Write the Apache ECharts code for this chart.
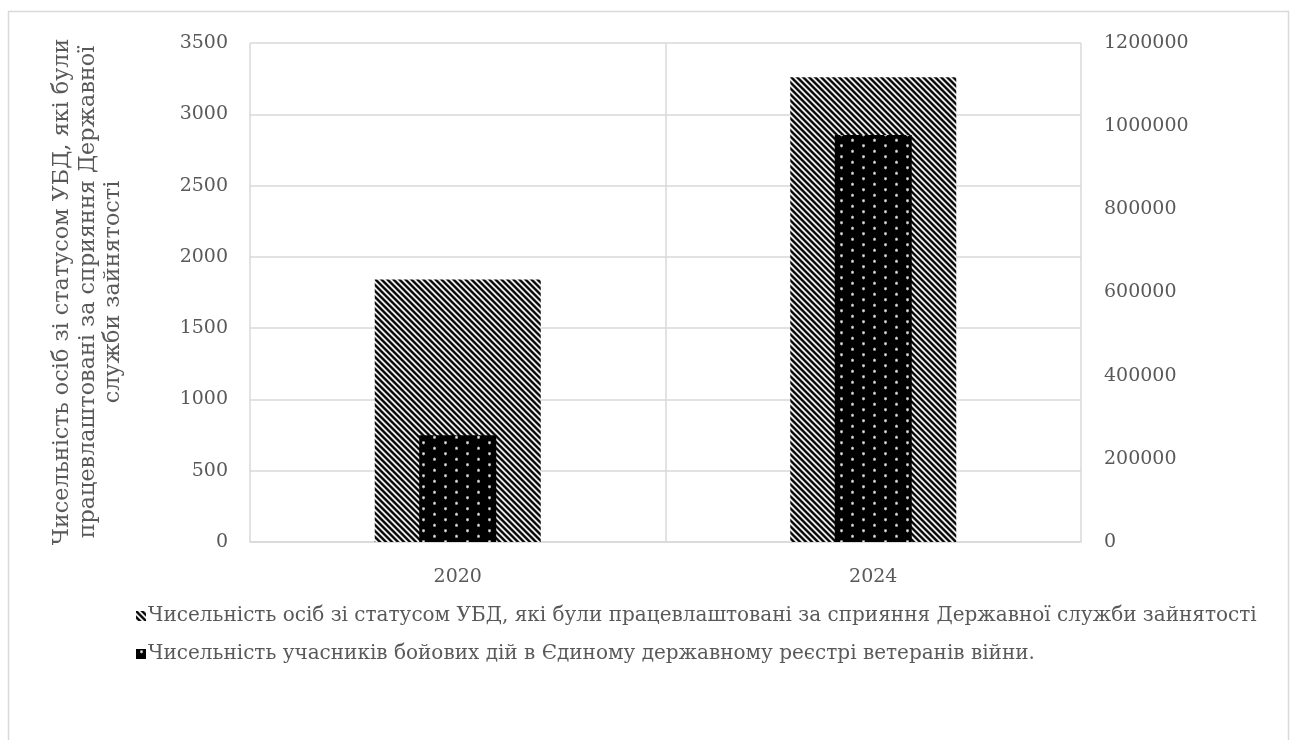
<!DOCTYPE html>
<html><head><meta charset="utf-8">
<script src="https://cdn.jsdelivr.net/npm/echarts@6/dist/echarts.min.js"></script>
<style>html,body{margin:0;padding:0;background:#fff}#c{width:1294px;height:740px}</style>
</head><body><div id="c"></div>
<script>
// ---- data ----
const categories = ['2020', '2024'];
const employedUBD = [1842, 3259];          // left axis
const veteransRegistry = [257000, 979000]; // right axis
const seriesNames = [
  'Чисельність осіб зі статусом УБД, які були працевлаштовані за сприяння Державної служби зайнятості',
  'Чисельність учасників бойових дій в Єдиному державному реєстрі ветеранів війни.'
];
const yTitleLines = [
  'Чисельність осіб зі статусом УБД, які були',
  'працевлаштовані за сприяння Державної',
  'служби зайнятості'
];

// ---- patterns ----
function hatchPattern() {
  const n = 6, c = document.createElement('canvas');
  c.width = n; c.height = n;
  const ctx = c.getContext('2d'), img = ctx.createImageData(n, n);
  const grays = [0, 30, 170, 255, 170, 30];
  for (let y = 0; y < n; y++) for (let x = 0; x < n; x++) {
    const d = ((x - y) % n + n) % n, g = grays[d], i = (y * n + x) * 4;
    img.data[i] = img.data[i + 1] = img.data[i + 2] = g; img.data[i + 3] = 255;
  }
  ctx.putImageData(img, 0, 0);
  return c;
}
function dotPattern() {
  const w = 22, h = 11, c = document.createElement('canvas');
  c.width = w; c.height = h;
  const ctx = c.getContext('2d'), img = ctx.createImageData(w, h);
  const dots = [[5.5, 2.75], [16.5, 8.25]];
  for (let y = 0; y < h; y++) for (let x = 0; x < w; x++) {
    let best = 99;
    for (const [dx, dy] of dots) {
      for (const ox of [-w, 0, w]) for (const oy of [-h, 0, h]) {
        const dd = Math.hypot(x + 0.5 - dx - ox, y + 0.5 - dy - oy);
        if (dd < best) best = dd;
      }
    }
    const v = Math.max(0, 1 - best / 2.0);
    const g = Math.round(255 * Math.pow(v, 0.6)), i = (y * w + x) * 4;
    img.data[i] = img.data[i + 1] = img.data[i + 2] = g; img.data[i + 3] = 255;
  }
  ctx.putImageData(img, 0, 0);
  return c;
}

const FONT = '"DejaVu Serif", "Liberation Serif", serif';
const TXT = '#595959';
const GRID = '#d9d9d9';
const plain = v => String(v);

const chart = echarts.init(document.getElementById('c'), null, { renderer: 'canvas' });
chart.setOption({
  animation: false,
  backgroundColor: '#fff',
  textStyle: { fontFamily: FONT, color: TXT },
  grid: { left: 250, right: 213, top: 43, bottom: 198 },
  legend: [
    {
      data: [seriesNames[0]], left: 131, top: 601, orient: 'horizontal',
      icon: 'rect', itemWidth: 10, itemHeight: 10, itemGap: 10,
      textStyle: { fontFamily: FONT, color: TXT, fontSize: 20, padding: [0, 0, 0, -3] }
    },
    {
      data: [seriesNames[1]], left: 131, top: 639, orient: 'horizontal',
      icon: 'rect', itemWidth: 10, itemHeight: 10, itemGap: 10,
      textStyle: { fontFamily: FONT, color: TXT, fontSize: 20, padding: [0, 0, 0, -3] }
    }
  ],
  xAxis: [
    {
      type: 'category', data: categories, boundaryGap: true,
      axisLine: { show: true, lineStyle: { color: GRID, width: 1.5 } },
      axisTick: { show: false },
      splitLine: { show: true, lineStyle: { color: GRID, width: 1.5 } },
      axisLabel: { color: TXT, fontFamily: FONT, fontSize: 19, margin: 26 }
    },
    {
      type: 'category', data: categories, boundaryGap: true, show: false
    }
  ],
  yAxis: [
    {
      type: 'value', min: 0, max: 3500, interval: 500,
      axisLine: { show: false }, axisTick: { show: false },
      splitLine: { show: true, lineStyle: { color: GRID, width: 1.5 } },
      axisLabel: { color: TXT, fontFamily: FONT, fontSize: 19, margin: 22, formatter: plain }
    },
    {
      type: 'value', min: 0, max: 1200000, interval: 200000, position: 'right',
      axisLine: { show: false }, axisTick: { show: false },
      splitLine: { show: false },
      axisLabel: { color: TXT, fontFamily: FONT, fontSize: 19, margin: 23, formatter: plain }
    }
  ],
  series: [
    {
      name: seriesNames[0], type: 'bar', xAxisIndex: 0, yAxisIndex: 0,
      data: employedUBD, barWidth: 166, z: 2,
      itemStyle: { color: { image: hatchPattern(), repeat: 'repeat' } }
    },
    {
      name: seriesNames[1], type: 'bar', xAxisIndex: 1, yAxisIndex: 1,
      data: veteransRegistry, barWidth: 77, z: 3,
      itemStyle: { color: { image: dotPattern(), repeat: 'repeat' } }
    }
  ],
  graphic: [
    {
      type: 'rect', silent: true, z: -1,
      shape: { x: 8.5, y: 11.5, width: 1280, height: 760 },
      style: { fill: 'none', stroke: GRID, lineWidth: 1.5 }
    },
    {
      type: 'text', silent: true,
      x: 88, y: 292, rotation: Math.PI / 2,
      style: {
        text: yTitleLines.join('\n'), font: '22.3px ' + FONT, fill: TXT,
        align: 'center', verticalAlign: 'middle', lineHeight: 25.5
      }
    }
  ]
});
</script>
</body></html>
